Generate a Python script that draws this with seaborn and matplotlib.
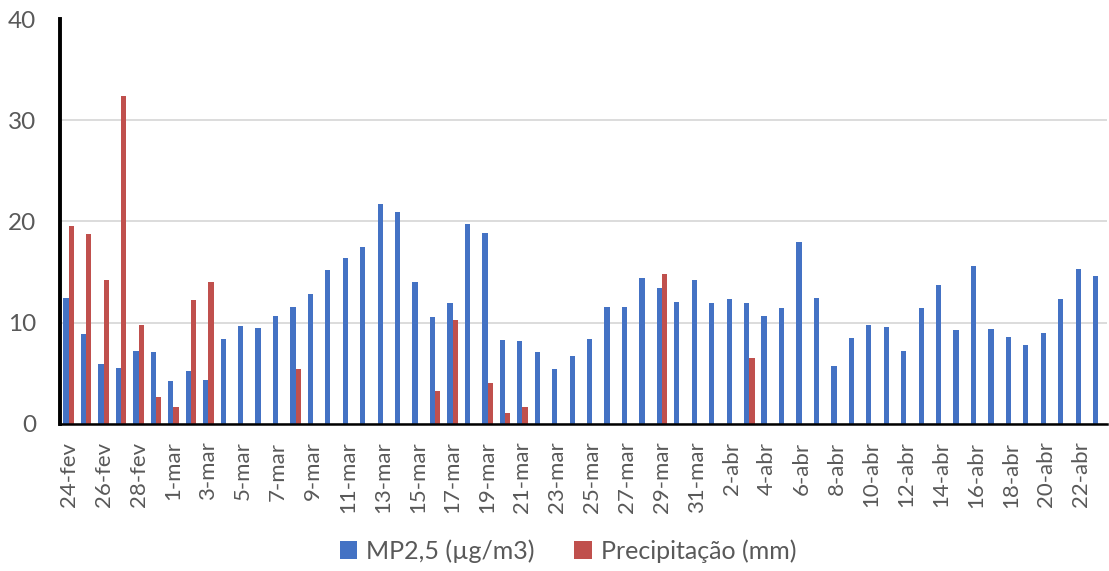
import matplotlib
matplotlib.use("Agg")
import matplotlib.pyplot as plt
import seaborn as sns
import pandas as pd
import numpy as np
from matplotlib.patches import Patch

dates = (["24-fev", "25-fev", "26-fev", "27-fev", "28-fev", "29-fev"]
         + [f"{d}-mar" for d in range(1, 32)]
         + [f"{d}-abr" for d in range(1, 24)])

mp25 = [12.4, 8.9, 5.9, 5.5, 7.2, 7.1, 4.2, 5.2, 4.3, 8.4,
        9.7, 9.5, 10.6, 11.5, 12.8, 15.2, 16.4, 17.5, 21.7, 20.9,
        14.0, 10.5, 11.9, 19.8, 18.9, 8.3, 8.2, 7.1, 5.4, 6.7,
        8.4, 11.5, 11.5, 14.4, 13.4, 12.0, 14.2, 11.9, 12.3, 11.9,
        10.6, 11.4, 18.0, 12.4, 5.7, 8.5, 9.8, 9.6, 7.2, 11.4,
        13.7, 9.3, 15.6, 9.4, 8.6, 7.8, 9.0, 12.3, 15.3, 14.6]

precip = [19.6, 18.8, 14.2, 32.4, 9.8, 2.6, 1.6, 12.2, 14.0, 0,
          0, 0, 0, 5.4, 0, 0, 0, 0, 0, 0,
          0, 3.2, 10.2, 0, 4.0, 1.0, 1.6, 0, 0, 0,
          0, 0, 0, 0, 14.8, 0, 0, 0, 0, 6.5,
          0, 0, 0, 0, 0, 0, 0, 0, 0, 0,
          0, 0, 0, 0, 0, 0, 0, 0, 0, 0]

series_names = ["MP2,5 (µg/m3)", "Precipitação (mm)"]
colors = ["#4472C4", "#C0504D"]
y_ticks = [0, 10, 20, 30, 40]

df = pd.DataFrame({
    "data": dates * 2,
    "valor": mp25 + precip,
    "serie": [series_names[0]] * len(dates) + [series_names[1]] * len(dates),
})

sns.set_theme(style="white")
plt.rcParams["font.family"] = ["Lato", "DejaVu Sans"]

fig = plt.figure(figsize=(11.09, 5.71), dpi=100)
ax = fig.add_axes([60 / 1109, 1 - 423.5 / 571, 1047 / 1109, 404 / 571])

sns.barplot(data=df, x="data", y="valor", hue="serie", order=dates,
            hue_order=series_names, palette=colors, width=0.6,
            saturation=1, legend=False, ax=ax, errorbar=None, linewidth=0)

ax.set_xlim(-0.5, len(dates) - 0.5)
ax.set_ylim(0, 40)
ax.set_yticks(y_ticks)
ax.set_yticklabels([str(t) for t in y_ticks], fontsize=17.5, color="#595959")
ax.yaxis.grid(True, color="#D9D9D9", linewidth=1.3)
ax.set_axisbelow(True)
ax.tick_params(axis="y", length=0, pad=17)

ax.set_xticks(range(0, len(dates), 2))
ax.set_xticklabels(dates[::2], rotation=90, fontsize=16, color="#595959")
ax.set_xticks(np.arange(-0.5, len(dates), 1), minor=True)
ax.tick_params(axis="x", which="major", length=0, pad=13)
ax.tick_params(axis="x", which="minor", length=8, width=1.5, color="black",
               direction="out")

for side in ["top", "right"]:
    ax.spines[side].set_visible(False)
ax.spines["left"].set_linewidth(2.8)
ax.spines["left"].set_color("black")
ax.spines["bottom"].set_linewidth(1.8)
ax.spines["bottom"].set_color("black")
ax.set_xlabel("")
ax.set_ylabel("")

handles = [Patch(facecolor=c, edgecolor="none") for c in colors]
fig.legend(handles, series_names, loc="center", bbox_to_anchor=(0.512, 1 - 551 / 571),
           ncol=2, frameon=False, fontsize=18, labelcolor="#595959",
           handlelength=0.7, handleheight=0.7, handletextpad=0.35, columnspacing=1.6)

fig.savefig("out.png", dpi=100)
